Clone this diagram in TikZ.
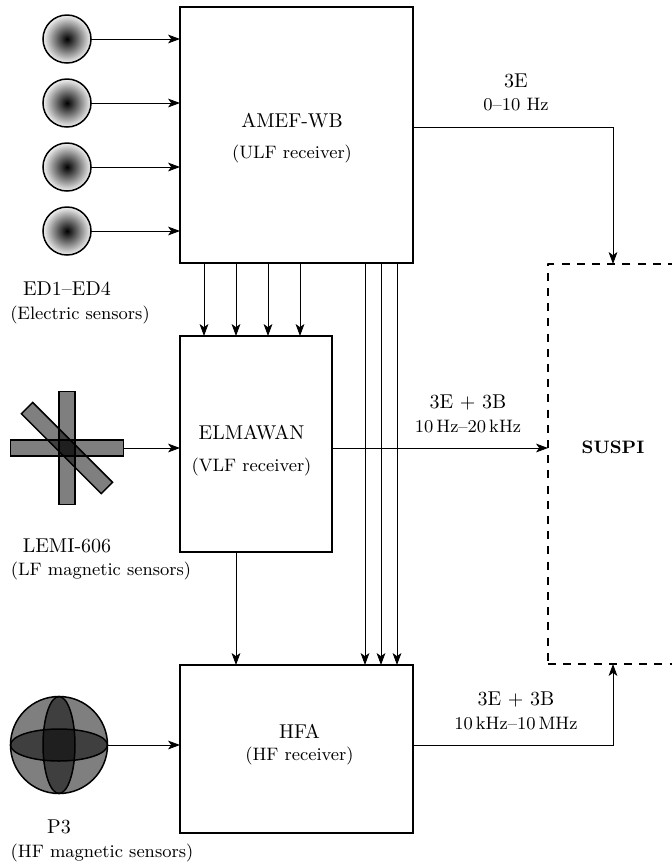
\documentclass[tikz,border=0pt]{standalone}
\usetikzlibrary{arrows.meta,shapes.geometric}
\tikzset{
    unitbox/.style={draw=black,line width=0.8pt,rectangle,inner sep=0pt,outer sep=0pt},
    sensorbar/.style={draw=black,line width=0.75pt,rectangle,fill=black,fill opacity=0.5,inner sep=0pt,outer sep=0pt,minimum width=56.5pt,minimum height=8pt},
    sensorball/.style={draw=black,line width=0.75pt,ellipse,fill=black,fill opacity=0.5,inner sep=0pt,outer sep=0pt},
    signal/.style={-{Stealth[length=6pt,width=4.4pt,inset=1.6pt]},line width=0.4pt},
}
\begin{document}
\begin{tikzpicture}[x=0.5pt,y=-0.5pt]
    \useasboundingbox (0,0) rectangle (671,864);
    % receivers
    \node[unitbox,minimum width=116.5pt,minimum height=128pt] (amef) at (296.5,135) {};
    \node[unitbox,minimum width=76pt,minimum height=108pt] (elmawan) at (256,444) {};
    \node[unitbox,minimum width=116.5pt,minimum height=84pt] (hfa) at (296.5,749) {};
    \node[draw=black,line width=1.2pt,line join=round,dash pattern=on 4pt off 3.6pt,rectangle,inner sep=0pt,outer sep=0pt,minimum width=65pt,minimum height=200pt] (suspi) at (613,464) {};
    \foreach \x/\y/\label in {292/121/AMEF-WB,251.5/433/ELMAWAN,299.5/731/HFA}
        \node (name\label) at (\x,\y) {\label};
    \foreach \x/\y/\label in {292/154/ULF,251.5/467/VLF,299.5/756/HF}
        \node[font=\small] (type\label) at (\x,\y) {(\label{} receiver)};
    \node[font=\small\bfseries] (suspilabel) at (613,447) {SUSPI};
    % electric sensors
    \foreach \y/\label in {39/1,103/2,167/3,231/4} {
        \node[circle,draw=black,line width=0.75pt,minimum size=24pt,inner sep=0pt,outer sep=0pt,inner color=black,outer color=black!5] (ed\label) at (67,\y) {};
        \draw[signal] (ed\label) -- (ed\label -| amef.west);
    }
    \node (edname) at (67,289) {ED1--ED4};
    \node[font=\small] (edtype) at (80,315) {(Electric sensors)};
    % LF magnetic sensors
    \node[sensorbar] (lemih) at (67,448) {};
    \node[sensorbar,rotate=90] (lemiv) at (67,448) {};
    \node[sensorbar,rotate=-45] (lemid) at (67,448) {};
    \draw[signal] (lemih) -- (lemih -| elmawan.west);
    \node (leminame) at (67,546) {LEMI-606};
    \node[font=\small] (lemitype) at (101,571) {(LF magnetic sensors)};
    % HF magnetic sensors
    \node[sensorball,circle,minimum size=48.5pt] (ball) at (59,745) {};
    \node[sensorball,minimum width=48.5pt,minimum height=16pt] (ballh) at (59,745) {};
    \node[sensorball,minimum width=16pt,minimum height=48.5pt] (ballv) at (59,745) {};
    \draw[signal] (ball) -- (ball -| hfa.west);
    \node (p3name) at (59,827) {P3};
    \node[font=\small] (p3type) at (102,853) {(HF magnetic sensors)};
    % links between receivers
    \foreach \x in {204,236,268,300}
        \draw[signal] (\x,0 |- amef.south) -- (\x,0 |- elmawan.north);
    \foreach \x in {365,381,397}
        \draw[signal] (\x,0 |- amef.south) -- (\x,0 |- hfa.north);
    \draw[signal] (236,0 |- elmawan.south) -- (236,0 |- hfa.north);
    % outputs
    \coordinate (amefout) at (413,127);
    \coordinate (hfaout) at (413,745);
    \draw[signal] (amefout) -| (suspi.north);
    \draw[signal] (elmawan.east |- 0,448) -- (suspi.west |- 0,448);
    \draw[signal] (hfaout) -| (suspi.south);
    \node (amefrate) at (516,81) {3E};
    \node[font=\small] (amefband) at (516,105) {0--10 Hz};
    \node (elmrate) at (468,402) {3E + 3B};
    \node[font=\small] (elmband) at (468,426) {10\,Hz--20\,kHz};
    \node (hfarate) at (516,699) {3E + 3B};
    \node[font=\small] (hfaband) at (516,723) {10\,kHz--10\,MHz};
\end{tikzpicture}
\end{document}
